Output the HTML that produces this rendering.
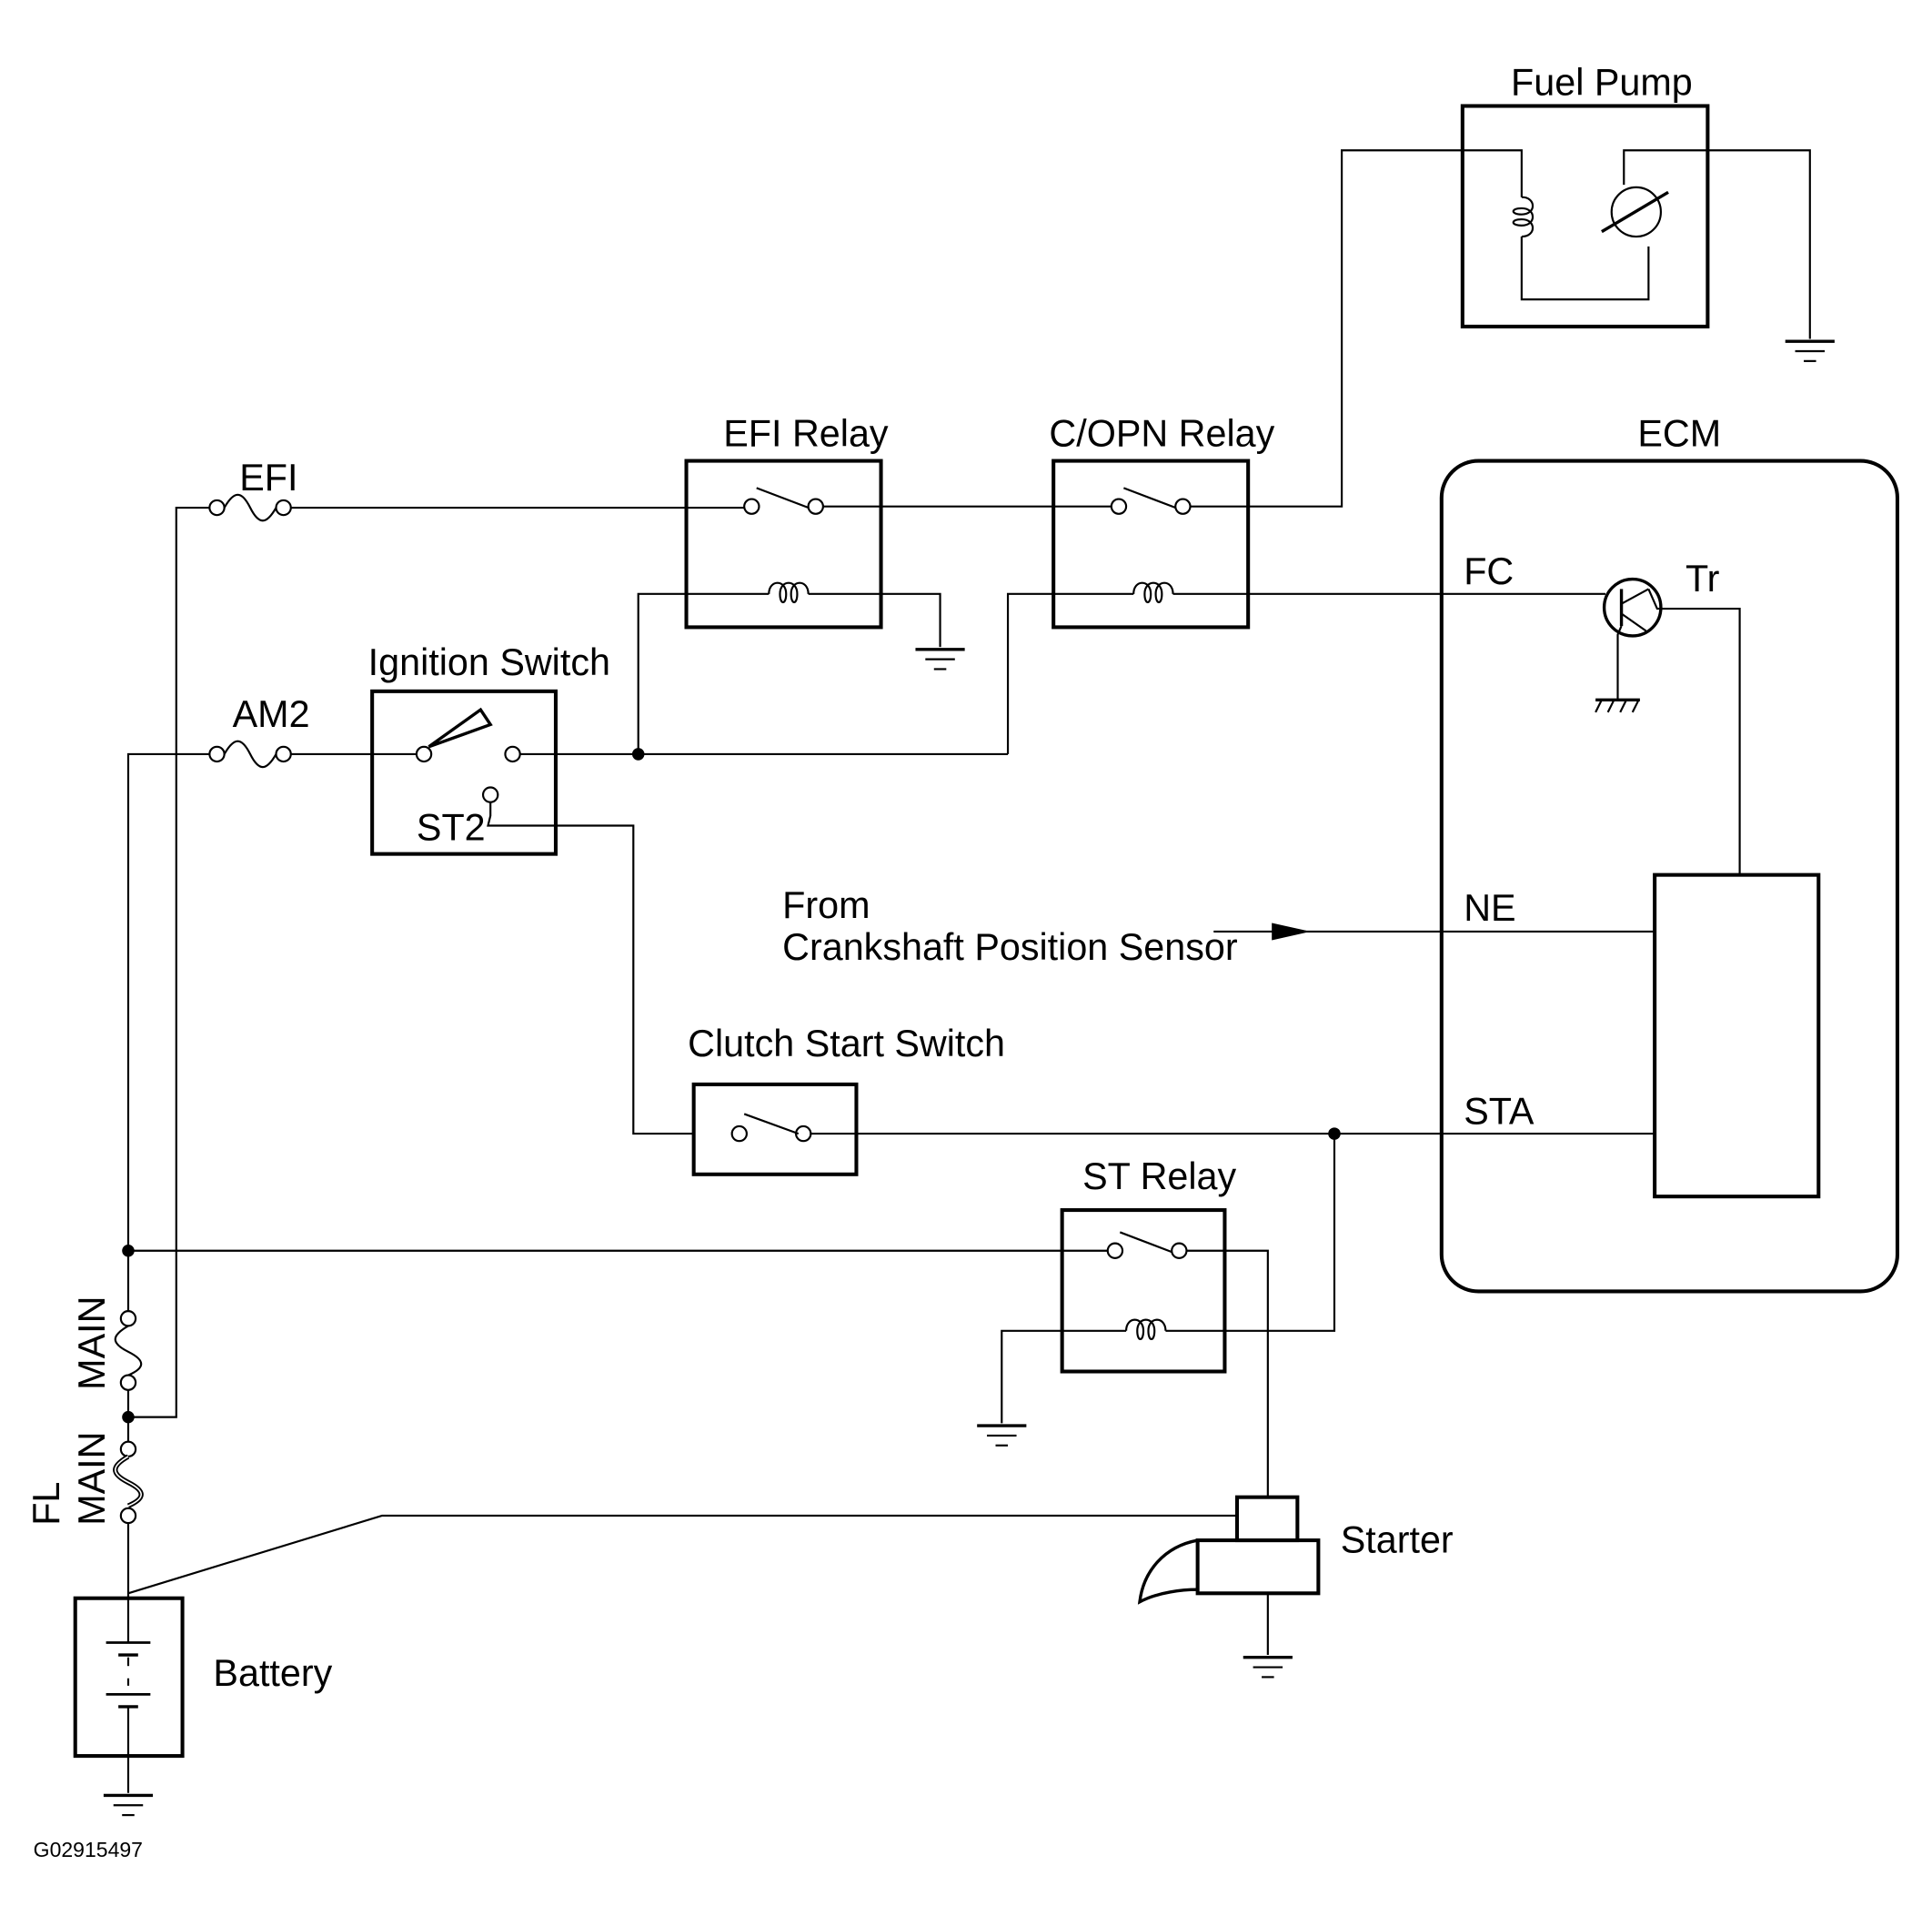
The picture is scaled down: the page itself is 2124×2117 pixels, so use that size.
<!DOCTYPE html>
<html><head><meta charset="utf-8"><style>
html,body{margin:0;padding:0;background:#fff}
svg{display:block}
text{font-family:"Liberation Sans",sans-serif;fill:#000}
</style></head><body>
<svg width="2124" height="2117" viewBox="0 0 1568 1563" xmlns="http://www.w3.org/2000/svg">
<defs>
<g id="gnd"><line x1="-20" y1="0" x2="20" y2="0" stroke-width="2.5"/><line x1="-12" y1="8" x2="12" y2="8"/><line x1="-5" y1="16" x2="5" y2="16"/></g>
<g id="coil"><path d="M0,0 c0,-12 14,-12 14,0 c0,9 -5,9 -5,0 c0,-12 14,-12 14,0 c0,9 -5,9 -5,0 c0,-12 14,-12 14,0" fill="none"/></g>
<g id="fuse"><circle cx="0" cy="0" r="6" fill="#fff"/><circle cx="54" cy="0" r="6" fill="#fff"/><path d="M6,0 c8,-14 14,-14 21,0 c7,14 13,14 21,0" fill="none"/></g>
</defs>
<g stroke="#000" stroke-width="1.6" fill="none">
<rect x="1187" y="86" width="199" height="179" stroke-width="3"/>
<polyline points="1013,411 1089,411 1089,122 1235,122 1235,160"/>
<g transform="translate(1235,160) rotate(90)"><use href="#coil"/></g>
<polyline points="1235,192 1235,243 1338,243 1338,200"/>
<polyline points="1318,150 1318,122 1469,122 1469,275"/>
<circle cx="1328" cy="172" r="20"/>
<line x1="1300" y1="188" x2="1354" y2="156" stroke-width="2.5"/>
<use href="#gnd" x="1469" y="277"/>
<rect x="1170" y="374" width="370" height="674" rx="30" stroke-width="3"/>
<rect x="1343" y="710" width="133" height="261" stroke-width="3"/>
<polyline points="170,412 143,412 143,1150 104,1150"/>
<use href="#fuse" x="176" y="412"/>
<line x1="236" y1="412" x2="604" y2="412"/>
<rect x="557" y="374" width="158" height="135" stroke-width="3"/>
<circle cx="610" cy="411" r="6" fill="#fff"/><circle cx="662" cy="411" r="6" fill="#fff"/>
<line x1="614" y1="396" x2="656" y2="412"/>
<line x1="668" y1="411" x2="902" y2="411"/>
<polyline points="518,612 518,482 624,482"/>
<use href="#coil" x="624" y="482"/>
<polyline points="656,482 763,482 763,525"/>
<use href="#gnd" x="763" y="527"/>
<rect x="855" y="374" width="158" height="135" stroke-width="3"/>
<circle cx="908" cy="411" r="6" fill="#fff"/><circle cx="960" cy="411" r="6" fill="#fff"/>
<line x1="912" y1="396" x2="954" y2="412"/>
<line x1="966" y1="411" x2="1013" y2="411"/>
<polyline points="818,612 818,482 920,482"/>
<use href="#coil" x="920" y="482"/>
<line x1="952" y1="482" x2="1303" y2="482"/>
<circle cx="1325" cy="493" r="23" stroke-width="2.5"/>
<line x1="1316" y1="478" x2="1316" y2="508" stroke-width="2.5"/>
<line x1="1316" y1="490" x2="1338" y2="478"/>
<line x1="1316" y1="498" x2="1336" y2="512"/>
<polyline points="1338,478 1345,494 1412,494 1412,710"/>
<polyline points="1316,508 1313,515 1313,568"/>
<line x1="1295" y1="568" x2="1331" y2="568" stroke-width="2.5"/>
<line x1="1300" y1="568" x2="1295" y2="578"/><line x1="1310" y1="568" x2="1305" y2="578"/><line x1="1320" y1="568" x2="1315" y2="578"/><line x1="1330" y1="568" x2="1325" y2="578"/>
<polyline points="170,612 104,612 104,1070"/>
<use href="#fuse" x="176" y="612"/>
<line x1="236" y1="612" x2="338" y2="612"/>
<rect x="302" y="561" width="149" height="132" stroke-width="3"/>
<circle cx="344" cy="612" r="6" fill="#fff"/><circle cx="416" cy="612" r="6" fill="#fff"/>
<path d="M348,606 L390,576 L398,588 Z" stroke-width="2.5"/>
<line x1="422" y1="612" x2="818" y2="612"/>
<circle cx="398" cy="645" r="6" fill="#fff"/>
<polyline points="398,651 398,662 396,670 514,670 514,920 563,920"/>
<rect x="563" y="880" width="132" height="73" stroke-width="3"/>
<circle cx="600" cy="920" r="6" fill="#fff"/><circle cx="652" cy="920" r="6" fill="#fff"/>
<line x1="604" y1="904" x2="648" y2="920"/>
<line x1="658" y1="920" x2="1343" y2="920"/>
<line x1="985" y1="756" x2="1343" y2="756"/>
<path d="M1033,750 L1060,756 L1033,762 Z" fill="#000"/>
<line x1="104" y1="1015" x2="899" y2="1015"/>
<rect x="862" y="982" width="132" height="131" stroke-width="3"/>
<circle cx="905" cy="1015" r="6" fill="#fff"/><circle cx="957" cy="1015" r="6" fill="#fff"/>
<line x1="909" y1="1000" x2="951" y2="1016"/>
<polyline points="963,1015 1029,1015 1029,1215"/>
<polyline points="813,1155 813,1080 914,1080"/>
<use href="#coil" x="914" y="1080"/>
<polyline points="946,1080 1083,1080 1083,920"/>
<use href="#gnd" x="813" y="1157"/>
<circle cx="104" cy="1070" r="6" fill="#fff"/><circle cx="104" cy="1122" r="6" fill="#fff"/>
<path d="M104,1076 c-14,8 -14,14 0,21 c14,7 14,13 0,19"/>
<line x1="104" y1="1128" x2="104" y2="1170"/>
<circle cx="104" cy="1176" r="6" fill="#fff"/><circle cx="104" cy="1230" r="6" fill="#fff"/>
<path d="M104,1182 c-14,8 -14,14 0,21 c14,7 14,13 0,19" stroke-width="4"/>
<path d="M104,1182 c-14,8 -14,14 0,21 c14,7 14,13 0,19" stroke="#fff" stroke-width="1.2"/>
<line x1="104" y1="1236" x2="104" y2="1297"/>
<rect x="61" y="1297" width="87" height="128" stroke-width="3"/>
<line x1="104" y1="1297" x2="104" y2="1333"/>
<line x1="86" y1="1333" x2="122" y2="1333" stroke-width="2"/>
<line x1="96" y1="1343" x2="112" y2="1343" stroke-width="2.5"/>
<line x1="104" y1="1345" x2="104" y2="1352"/><line x1="104" y1="1362" x2="104" y2="1368"/>
<line x1="86" y1="1375" x2="122" y2="1375" stroke-width="2"/>
<line x1="96" y1="1385" x2="112" y2="1385" stroke-width="2.5"/>
<line x1="104" y1="1385" x2="104" y2="1455"/>
<use href="#gnd" x="104" y="1457"/>
<polyline points="104,1293 310,1230 1004,1230"/>
<rect x="1004" y="1215" width="49" height="35" stroke-width="3"/>
<rect x="972" y="1250" width="98" height="43" stroke-width="3"/>
<path d="M972,1250 C945,1255 928,1275 925,1300 C940,1292 960,1290 972,1290" stroke-width="2.5"/>
<line x1="1029" y1="1293" x2="1029" y2="1343"/>
<use href="#gnd" x="1029" y="1345"/>
</g>
<g fill="#000">
<circle cx="518" cy="612" r="5"/><circle cx="104" cy="1015" r="5"/><circle cx="104" cy="1150" r="5"/><circle cx="1083" cy="920" r="5"/>
</g>
<g font-size="30.5">
<text x="1300" y="77" text-anchor="middle">Fuel Pump</text>
<text x="1363" y="362" text-anchor="middle">ECM</text>
<text x="654" y="362" text-anchor="middle">EFI Relay</text>
<text x="943" y="362" text-anchor="middle">C/OPN Relay</text>
<text x="218" y="398" text-anchor="middle">EFI</text>
<text x="220" y="590" text-anchor="middle">AM2</text>
<text x="397" y="548" text-anchor="middle">Ignition Switch</text>
<text x="338" y="682">ST2</text>
<text x="1188" y="474">FC</text>
<text x="1368" y="480">Tr</text>
<text x="1188" y="747">NE</text>
<text x="1188" y="912">STA</text>
<text x="635" y="745">From</text>
<text x="635" y="779">Crankshaft Position Sensor</text>
<text x="687" y="857" text-anchor="middle">Clutch Start Switch</text>
<text x="941" y="965" text-anchor="middle">ST Relay</text>
<text x="1088" y="1260">Starter</text>
<text x="173" y="1368">Battery</text>
<text transform="translate(85,1128) rotate(-90)">MAIN</text>
<text transform="translate(85,1238) rotate(-90)">MAIN</text>
<text transform="translate(48,1238) rotate(-90)">FL</text>
</g>
<text x="27" y="1507" font-size="17">G02915497</text>
</svg>
</body></html>
